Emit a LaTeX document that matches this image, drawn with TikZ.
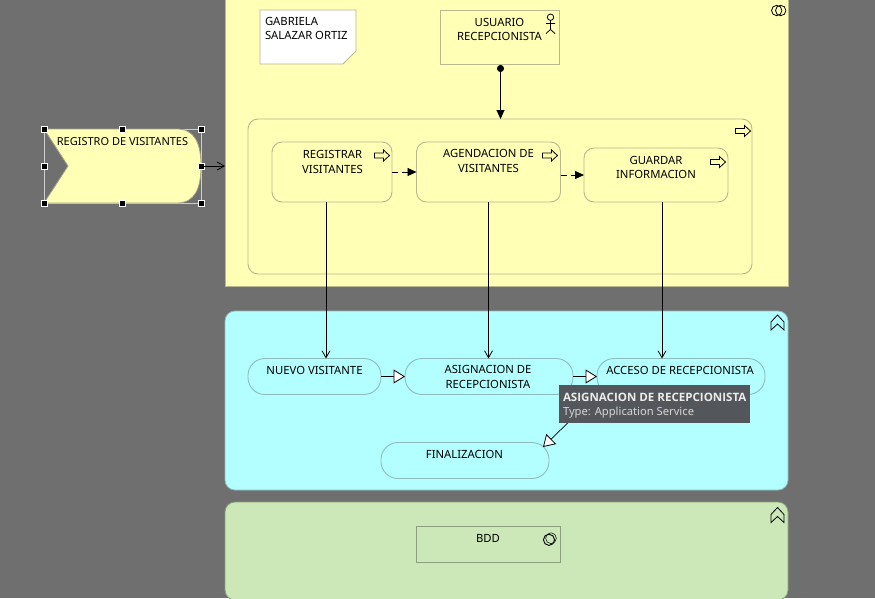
\documentclass[tikz,border=0pt]{standalone}
\usepackage{fontspec}
\setmainfont{Noto Sans}
\newfontfamily\tipfont{Open Sans}
\usetikzlibrary{arrows.meta,calc}
\definecolor{bggray}{HTML}{6F6F6F}
\definecolor{ylw}{HTML}{FFFFB5}
\definecolor{cyn}{HTML}{B3FFFF}
\definecolor{grn}{HTML}{CCE8B8}
\definecolor{ylwline}{HTML}{B8B88E}
\definecolor{cynline}{HTML}{8CBCBC}
\definecolor{grnline}{HTML}{8A9F7C}
\definecolor{tipbg}{HTML}{53565A}
\definecolor{tipfg}{HTML}{D6D6D6}
\tikzset{
  every node/.style={inner sep=0pt,outer sep=0pt},
  txt/.style={inner sep=0pt,align=center,font=\fontsize{11.3}{14.8}\selectfont,text=black},
  panel/.style={draw=#1,line width=0.8pt,rounded corners=10pt},
  boxy/.style={draw=ylwline,fill=ylw,line width=0.9pt},
  proc/.style={boxy,rounded corners=10pt},
  svc/.style={draw=cynline,fill=cyn,line width=0.9pt,rounded corners=17pt},
  handle/.style={fill=black,draw=white,line width=0.8pt,minimum size=6pt},
  conn/.style={black,line width=0.9pt},
  openarrow/.style={conn,-{Straight Barb[length=7pt,width=8pt,line width=0.8pt]}},
  trigger/.style={conn,-{Triangle[length=11.5pt,width=14pt,fill=white,line width=0.8pt]}},
  flowline/.style={conn,dash pattern=on 6pt off 4pt,-{Triangle[length=9pt,width=8pt,fill=black]}},
  assign/.style={conn,{Circle[length=7pt,fill=black]}-{Triangle[length=9pt,width=8pt,fill=black]}},
  procicon/.pic={\draw[black,line width=0.8pt,fill=none,line join=miter]
    (-7.5,-2.5)--(1.5,-2.5)--(1.5,-5.5)--(7.5,0)--(1.5,5.5)--(1.5,2.5)--(-7.5,2.5)--cycle;},
  chevicon/.pic={\draw[black,line width=0.8pt]
    (-6.5,7.5)--(-6.5,-0.5)--(0,-7.5)--(6.5,-0.5)--(6.5,7.5)--(0,1.5)--cycle;},
  colabicon/.pic={\draw[black,line width=0.8pt] (-2,0) circle[radius=5.2] (2,0) circle[radius=5.2];},
  compicon/.pic={\draw[black,line width=0.9pt] (-1,0.8) circle[radius=5.6]; \draw[black,line width=0.5pt] (1,-0.8) circle[radius=5.4];},
  actoricon/.pic={\draw[black,line width=0.8pt] (0,-6.8) circle[radius=3.2] (0,-3.6)--(0,5.5) (-4.5,-0.5)--(4.5,-0.5) (-4.5,9.5)--(0,5.5)--(4.5,9.5);}
}
\begin{document}
\begin{tikzpicture}[x=1pt,y=-1pt]
\useasboundingbox (0,0) rectangle (875,598);
\clip (0,0) rectangle (875,598);
\fill[bggray] (0,0) rectangle (875,598);

% panels
\node[draw=ylwline,fill=ylw,line width=0.8pt,minimum width=563pt,minimum height=296pt] (business) at (506.5,138) {};
\node[panel=cynline,fill=cyn,minimum width=563pt,minimum height=179pt] (application) at (506.5,400.5) {};
\node[panel=grnline,fill=grn,minimum width=563pt,minimum height=98pt] (technology) at (506.5,551) {};
\node[proc,minimum width=504pt,minimum height=155pt] (group) at (500,196.5) {};

% business layer elements
\node[draw=none,minimum width=96pt,minimum height=54pt] (note) at (308,37) {};
\draw[fill=white,draw=ylwline,line width=0.9pt] (note.north west) -- (note.north east) -- ($(note.south east)+(0,-13)$) -- ($(note.south east)+(-13,0)$) -- (note.south west) -- cycle;
\node[txt,anchor=north west,align=left] (notetext) at (265,17) {GABRIELA\\SALAZAR ORTIZ};

\node[boxy,minimum width=119pt,minimum height=54pt] (actor) at (499.5,37.5) {};
\node[txt] (actortext) at (499.5,29.5) {USUARIO\\RECEPCIONISTA};

\node[proc,minimum width=120pt,minimum height=60pt] (registrar) at (332,172) {};
\node[txt] (registrartext) at (332.5,162) {REGISTRAR\\VISITANTES};
\node[proc,minimum width=144pt,minimum height=60pt] (agenda) at (488.5,172) {};
\node[txt] (agendatext) at (488.5,161) {AGENDACION DE\\VISITANTES};
\node[proc,minimum width=144pt,minimum height=54pt] (guardar) at (656,175) {};
\node[txt] (guardartext) at (656,167.5) {GUARDAR\\INFORMACION};

% application layer elements
\node[svc,minimum width=133pt,minimum height=36pt] (nuevo) at (314.5,376.5) {};
\node[txt] (nuevotext) at (314.5,370) {NUEVO VISITANTE};
\node[svc,minimum width=168pt,minimum height=36pt] (asigna) at (489,376.5) {};
\node[txt] (asignatext) at (488,377) {ASIGNACION DE\\RECEPCIONISTA};
\node[svc,minimum width=168pt,minimum height=36pt] (acceso) at (681,376.5) {};
\node[txt] (accesotext) at (680,370) {ACCESO DE RECEPCIONISTA};
\node[svc,minimum width=168pt,minimum height=36pt] (final) at (465,460.5) {};
\node[txt] (finaltext) at (464.5,454) {FINALIZACION};

% technology element
\node[draw=grnline,line width=0.9pt,minimum width=144pt,minimum height=36pt] (bdd) at (488.5,544.5) {};
\node[txt] (bddtext) at (488,538) {BDD};

% event
\node[draw=white!65!bggray,line width=0.9pt,minimum width=157pt,minimum height=74pt] (event) at (122.5,166) {};
\fill[ylw,draw=ylwline!70!bggray,line width=0.8pt] (event.north west) -- ($(event.north east)+(-24,0)$)
  .. controls ($(event.north east)+(-6,0)$) and ($(event.east)+(0,-22)$) .. (event.east)
  .. controls ($(event.east)+(0,22)$) and ($(event.south east)+(-6,0)$) .. ($(event.south east)+(-24,0)$)
  -- (event.south west) -- ($(event.west)+(24,0)$) -- cycle;
\node[txt,font=\fontsize{11}{14.6}\selectfont] (eventtext) at (122.5,142) {REGISTRO DE VISITANTES};
\foreach \a in {north west,north,north east,west,east,south west,south,south east}
  \node[handle] (h-\a) at (event.\a) {};

% icons
\pic at (778.7,10.5) {colabicon};
\pic at (743,131) {procicon};
\pic at (382,155.5) {procicon};
\pic at (550,155.5) {procicon};
\pic at (718,162) {procicon};
\pic at (550.5,24) {actoricon};
\pic at (777.5,322.5) {chevicon};
\pic at (777.5,515) {chevicon};
\pic at (550,539) {compicon};

% connectors
\draw[openarrow] (event.east) -- (business.west |- event.east);
\draw[assign] ([xshift=1pt,yshift=-0.5pt]actor.south) -- ([xshift=1pt]group.north -| actor.south);
\draw[flowline] (registrar.east) -- (agenda.west);
\draw[flowline] (agenda.east |- guardar.east) -- (guardar.west);
\draw[openarrow] ([xshift=-6pt]registrar.south) -- ([xshift=-6pt]registrar.south |- nuevo.north);
\draw[openarrow] (agenda.south) -- (agenda.south |- asigna.north);
\draw[openarrow] ([xshift=6pt]guardar.south) -- ([xshift=6pt]guardar.south |- acceso.north);
\draw[trigger] (nuevo.east) -- (asigna.west);
\draw[trigger] (asigna.east) -- (acceso.west);
\draw[trigger,line width=0.7pt] (acceso.south west) -- ([xshift=-6pt,yshift=-4.5pt]final.north east);

% tooltip
\node[fill=tipbg,minimum width=191pt,minimum height=38pt] (tooltip) at (654.5,404) {};
\node[anchor=west,font=\tipfont\fontsize{11.55}{14}\selectfont\bfseries,text=white!92!black] (tiptitle) at (563,397) {ASIGNACION DE RECEPCIONISTA};
\node[anchor=west,font=\fontsize{11.2}{14}\selectfont,text=tipfg] (tiptype) at (563,412.5) {Type: Application Service};
\end{tikzpicture}
\end{document}
